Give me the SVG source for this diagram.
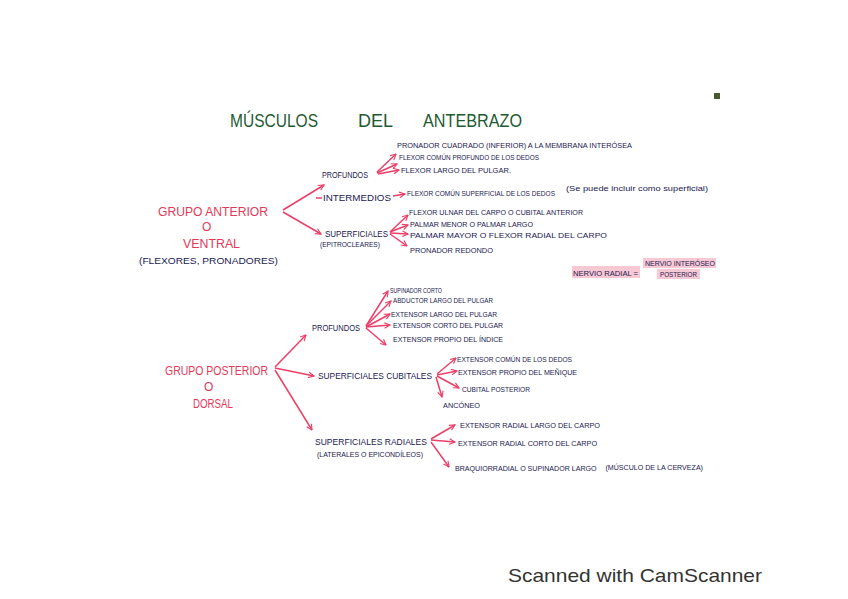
<svg xmlns="http://www.w3.org/2000/svg" width="848" height="599" viewBox="0 0 848 599">
<defs>
<marker id="ah" viewBox="0 0 10 10" refX="9" refY="5" markerWidth="7" markerHeight="7" markerUnits="userSpaceOnUse" orient="auto">
<path d="M1,1 L9,5 L1,9" fill="none" stroke="#ec3f68" stroke-width="1.6"/>
</marker>
<style>
.t{font-family:"Liberation Sans",Arial,sans-serif;font-size:8px;fill:#1c2050;}
.h{font-family:"Liberation Sans",Arial,sans-serif;font-size:12px;fill:#e23a58;}
.s{font-family:"Liberation Sans",Arial,sans-serif;font-size:9.5px;fill:#1c2050;}
.ti{font-family:"Liberation Sans",Arial,sans-serif;font-size:18px;fill:#1e5a32;}
.c{stroke:#ec3f68;stroke-width:1.5;fill:none;marker-end:url(#ah);}
.cn{stroke:#ec3f68;stroke-width:1.5;fill:none;}
.hl{fill:#f8c8d4;}
</style>
</defs>
<rect width="848" height="599" fill="#ffffff"/>
<rect x="714" y="93" width="6" height="6" fill="#4a5a30"/>

<g id="title">
<text class="ti" x="230" y="127" textLength="88" lengthAdjust="spacingAndGlyphs">MÚSCULOS</text>
<text class="ti" x="358" y="127" textLength="35" lengthAdjust="spacingAndGlyphs">DEL</text>
<text class="ti" x="423" y="127" textLength="99" lengthAdjust="spacingAndGlyphs">ANTEBRAZO</text>
</g>

<g id="connectors">
<line class="c" x1="283" y1="210" x2="324" y2="185"/>
<line class="cn" x1="316" y1="198" x2="322" y2="198"/>
<line class="c" x1="283" y1="212" x2="321" y2="234"/>
<line class="c" x1="377" y1="172" x2="396" y2="154"/>
<line class="c" x1="377" y1="173" x2="397" y2="164"/>
<line class="c" x1="378" y1="174" x2="399" y2="170"/>
<line class="c" x1="393" y1="196" x2="405" y2="194"/>
<line class="c" x1="390" y1="232" x2="408" y2="215"/>
<line class="c" x1="390" y1="232" x2="408" y2="225"/>
<line class="c" x1="390" y1="233" x2="408" y2="234"/>
<line class="c" x1="390" y1="234" x2="407" y2="246"/>
<line class="c" x1="275" y1="367" x2="306" y2="335"/>
<line class="c" x1="275" y1="368" x2="314" y2="376"/>
<line class="c" x1="275" y1="370" x2="312" y2="430"/>
<line class="c" x1="366" y1="326" x2="388" y2="291"/>
<line class="c" x1="366" y1="326" x2="391" y2="301"/>
<line class="c" x1="366" y1="327" x2="390" y2="314"/>
<line class="c" x1="366" y1="327" x2="390" y2="325"/>
<line class="c" x1="366" y1="328" x2="386" y2="345"/>
<line class="c" x1="437" y1="374" x2="456" y2="358"/>
<line class="c" x1="437" y1="375" x2="457" y2="371"/>
<line class="c" x1="437" y1="376" x2="459" y2="388"/>
<line class="c" x1="436" y1="377" x2="442" y2="397"/>
<line class="c" x1="431" y1="439" x2="455" y2="425"/>
<line class="c" x1="431" y1="440" x2="455" y2="442"/>
<line class="c" x1="431" y1="442" x2="449" y2="467"/>
</g>

<g id="grupo-anterior">
<text class="h" x="158" y="216" textLength="110" lengthAdjust="spacingAndGlyphs">GRUPO ANTERIOR</text>
<text class="h" x="202" y="231" font-size="8">O</text>
<text class="h" x="183" y="248" textLength="57" lengthAdjust="spacingAndGlyphs">VENTRAL</text>
<text class="s" x="139" y="264" textLength="139" lengthAdjust="spacingAndGlyphs">(FLEXORES, PRONADORES)</text>
</g>

<g id="ant-profundos">
<text class="s" x="322" y="178" textLength="46" lengthAdjust="spacingAndGlyphs">PROFUNDOS</text>
<text class="t" x="397" y="148" textLength="235" lengthAdjust="spacingAndGlyphs">PRONADOR CUADRADO (INFERIOR) A LA MEMBRANA INTERÓSEA</text>
<text class="t" x="399" y="160" textLength="140" lengthAdjust="spacingAndGlyphs">FLEXOR COMÚN PROFUNDO DE LOS DEDOS</text>
<text class="t" x="401" y="173" textLength="110" lengthAdjust="spacingAndGlyphs">FLEXOR LARGO DEL PULGAR.</text>
</g>

<g id="ant-intermedios">
<text class="s" x="323" y="201" textLength="68" lengthAdjust="spacingAndGlyphs">INTERMEDIOS</text>
<text class="t" x="407" y="196" textLength="148" lengthAdjust="spacingAndGlyphs">FLEXOR COMÚN SUPERFICIAL DE LOS DEDOS</text>
<text class="t" x="566" y="191" font-size="7.5" textLength="142" lengthAdjust="spacingAndGlyphs">(Se puede incluir como superficial)</text>
</g>

<g id="ant-superficiales">
<text class="s" x="325" y="237" textLength="63" lengthAdjust="spacingAndGlyphs">SUPERFICIALES</text>
<text class="t" x="320" y="247" textLength="60" lengthAdjust="spacingAndGlyphs">(EPITROCLEARES)</text>
<text class="t" x="409" y="215" textLength="174" lengthAdjust="spacingAndGlyphs">FLEXOR ULNAR DEL CARPO O CUBITAL ANTERIOR</text>
<text class="t" x="410" y="227" textLength="123" lengthAdjust="spacingAndGlyphs">PALMAR MENOR O PALMAR LARGO</text>
<text class="t" x="410" y="238" textLength="197" lengthAdjust="spacingAndGlyphs">PALMAR MAYOR O FLEXOR RADIAL DEL CARPO</text>
<text class="t" x="410" y="253" textLength="83" lengthAdjust="spacingAndGlyphs">PRONADOR REDONDO</text>
</g>

<g id="nervio-radial">
<rect class="hl" x="572" y="266" width="68" height="12"/>
<rect class="hl" x="643" y="258" width="73" height="10"/>
<rect class="hl" x="657" y="269" width="43" height="10"/>
<text class="t" x="573" y="276" textLength="65" lengthAdjust="spacingAndGlyphs">NERVIO RADIAL =</text>
<text class="t" x="645" y="266" font-size="7" textLength="70" lengthAdjust="spacingAndGlyphs">NERVIO INTERÓSEO</text>
<text class="t" x="660" y="277" font-size="7" textLength="37" lengthAdjust="spacingAndGlyphs">POSTERIOR</text>
</g>

<g id="grupo-posterior">
<text class="h" x="165" y="375" textLength="103" lengthAdjust="spacingAndGlyphs">GRUPO POSTERIOR</text>
<text class="h" x="204" y="391" font-size="8">O</text>
<text class="h" x="193" y="408" textLength="40" lengthAdjust="spacingAndGlyphs">DORSAL</text>
</g>

<g id="post-profundos">
<text class="s" x="312" y="331" textLength="48" lengthAdjust="spacingAndGlyphs">PROFUNDOS</text>
<text class="t" x="390" y="293" textLength="52" lengthAdjust="spacingAndGlyphs">SUPINADOR CORTO</text>
<text class="t" x="393" y="303" textLength="100" lengthAdjust="spacingAndGlyphs">ABDUCTOR LARGO DEL PULGAR</text>
<text class="t" x="391" y="317" textLength="106" lengthAdjust="spacingAndGlyphs">EXTENSOR LARGO DEL PULGAR</text>
<text class="t" x="393" y="328" textLength="110" lengthAdjust="spacingAndGlyphs">EXTENSOR CORTO DEL PULGAR</text>
<text class="t" x="393" y="342" textLength="110" lengthAdjust="spacingAndGlyphs">EXTENSOR PROPIO DEL ÍNDICE</text>
</g>

<g id="post-cubitales">
<text class="s" x="318" y="379" textLength="114" lengthAdjust="spacingAndGlyphs">SUPERFICIALES CUBITALES</text>
<text class="t" x="457" y="362" textLength="115" lengthAdjust="spacingAndGlyphs">EXTENSOR COMÚN DE LOS DEDOS</text>
<text class="t" x="458" y="375" textLength="119" lengthAdjust="spacingAndGlyphs">EXTENSOR PROPIO DEL MEÑIQUE</text>
<text class="t" x="462" y="392" textLength="68" lengthAdjust="spacingAndGlyphs">CUBITAL POSTERIOR</text>
<text class="t" x="443" y="408" textLength="37" lengthAdjust="spacingAndGlyphs">ANCÓNEO</text>
</g>

<g id="post-radiales">
<text class="s" x="315" y="445" textLength="112" lengthAdjust="spacingAndGlyphs">SUPERFICIALES RADIALES</text>
<text class="t" x="317" y="457" textLength="106" lengthAdjust="spacingAndGlyphs">(LATERALES O EPICONDÍLEOS)</text>
<text class="t" x="460" y="428" textLength="140" lengthAdjust="spacingAndGlyphs">EXTENSOR RADIAL LARGO DEL CARPO</text>
<text class="t" x="458" y="446" textLength="139" lengthAdjust="spacingAndGlyphs">EXTENSOR RADIAL CORTO DEL CARPO</text>
<text class="t" x="455" y="471" font-size="7" textLength="248" lengthAdjust="spacingAndGlyphs">BRAQUIORRADIAL O SUPINADOR LARGO<tspan dx="10" dy="-1">(MÚSCULO DE LA CERVEZA)</tspan></text>
</g>

<text x="508" y="582" font-family="'Liberation Sans',Arial,sans-serif" font-size="19" fill="#333333" textLength="254" lengthAdjust="spacingAndGlyphs">Scanned with CamScanner</text>
</svg>
